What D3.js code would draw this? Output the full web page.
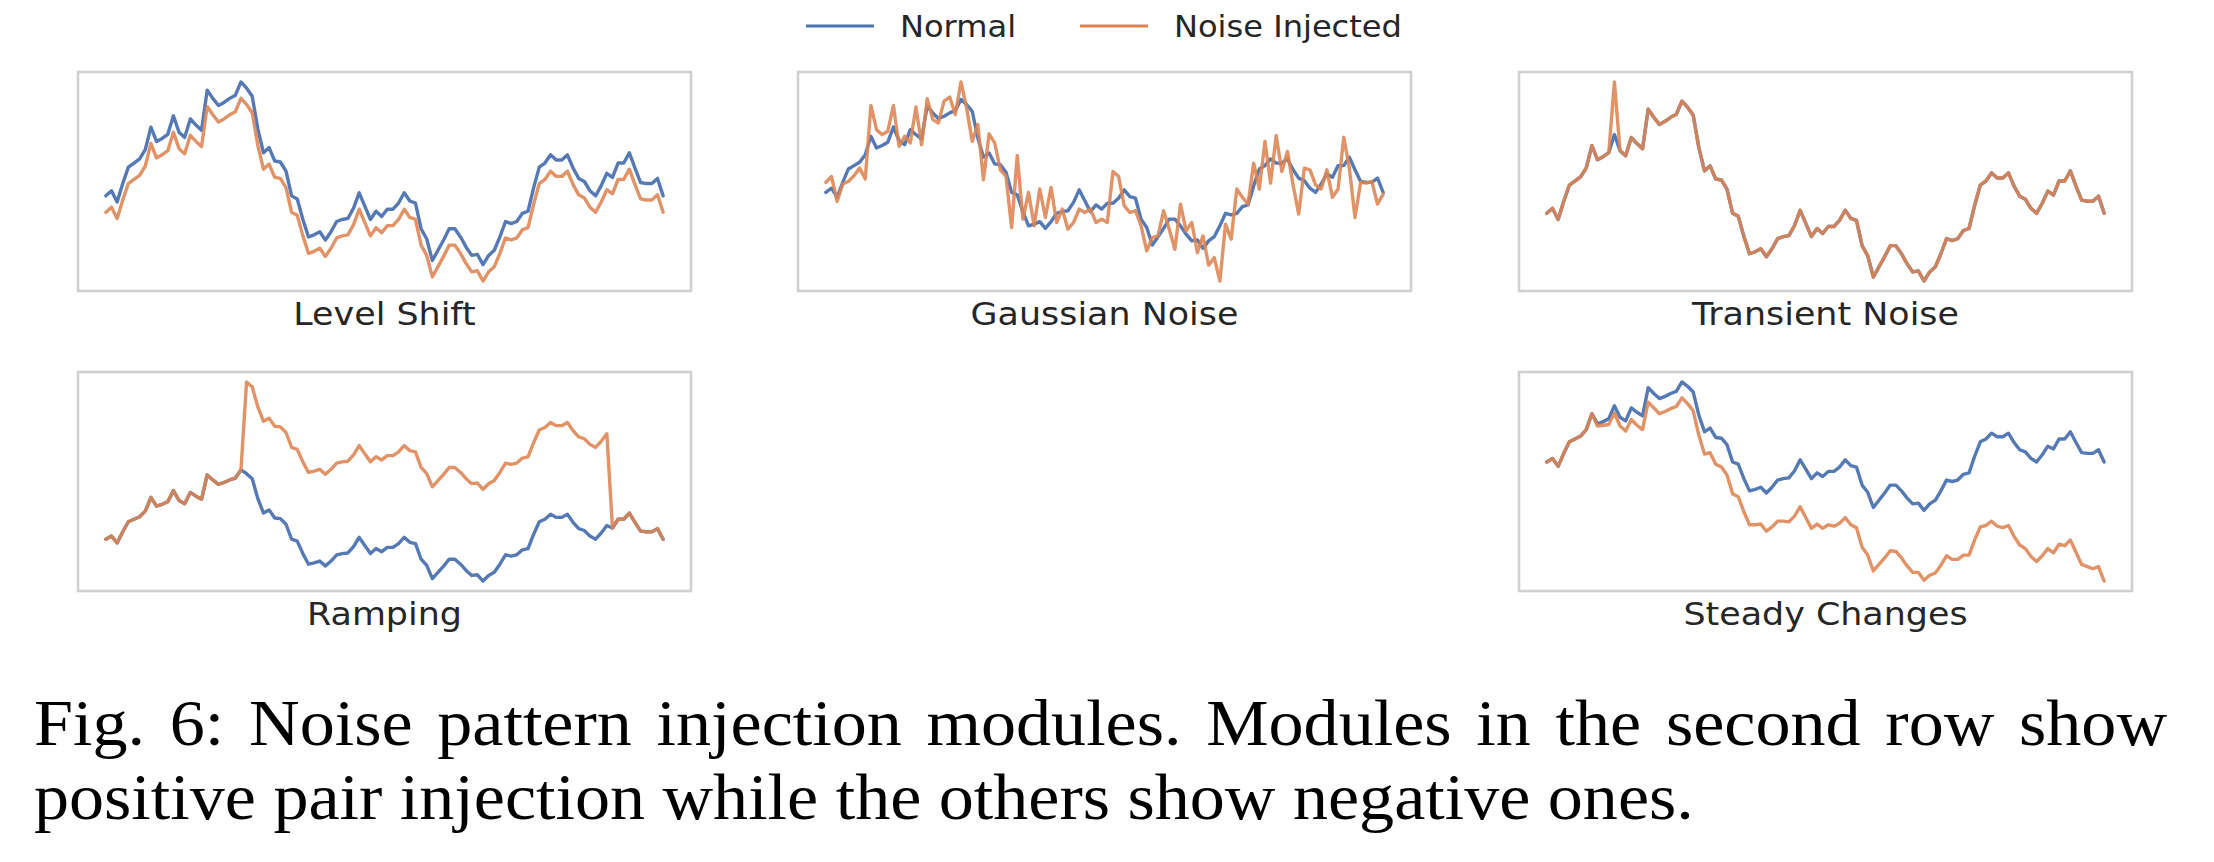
<!DOCTYPE html>
<html><head><meta charset="utf-8">
<script src="https://cdn.jsdelivr.net/npm/d3@7"></script>
<style>html,body{margin:0;padding:0;background:#fff;} svg{display:block}</style>
</head><body>
<svg id="chart" width="2214" height="862"></svg>
<script>
// ---- data (arbitrary units) ----
const normalSeries = [88,93,82,100,116,120,124,133,155,141,
 144,148,166,150,145,163,157,152,191,183,
 176,179,183,186,199,193,185,153,130,135,
 122,121,112,88,85,65,48,50,53,45,
 53,63,65,66,76,91,78,65,73,68,
 75,75,81,91,83,81,56,46,25,35,
 45,56,56,48,38,30,31,21,30,35,
 48,63,61,63,71,73,96,116,120,128,
 123,123,128,115,105,102,93,88,98,110,
 106,120,120,130,115,101,100,100,105,88];

const levelShiftSeries = [72,77,66,84,100,104,108,117,139,125,
 128,132,150,134,129,147,141,136,175,167,
 160,163,167,170,183,177,169,137,114,119,
 106,105,96,72,69,49,32,34,37,29,
 37,47,49,50,60,75,62,49,57,52,
 59,59,65,75,67,65,40,30,9,19,
 29,40,40,32,22,14,15,5,14,19,
 32,47,45,47,55,57,80,100,104,112,
 107,107,112,99,89,86,77,72,82,94,
 90,104,104,114,99,85,84,84,89,72];

const gaussianNoiseSeries = [100,107,77,98,101,108,117,104,192,163,
 157,161,192,143,155,147,190,145,200,175,
 171,197,202,181,220,189,149,169,103,158,
 147,115,107,46,132,56,88,48,92,58,
 94,52,68,44,52,68,64,68,52,56,
 52,113,107,72,64,66,48,18,34,36,
 66,44,20,74,42,52,16,36,1,10,
 -18,50,32,92,82,74,123,92,149,99,
 156,113,137,97,62,117,115,97,92,115,
 82,92,154,117,58,100,99,101,74,86];

const transientNoiseSeries = [88,93,82,100,116,120,124,133,155,141,
 144,148,218,150,145,163,157,152,191,183,
 176,179,183,186,199,193,185,153,130,135,
 122,121,112,88,85,65,48,50,53,45,
 53,63,65,66,76,91,78,65,73,68,
 75,75,81,91,83,81,56,46,25,35,
 45,56,56,48,38,30,31,21,30,35,
 48,63,61,63,71,73,96,116,120,128,
 123,123,128,115,105,102,93,88,98,110,
 106,120,120,130,115,101,100,100,105,88];

const rampingSeries = [88,93,82,100,116,120,124,133,155,141,
 144,148,166,150,145,163,157,152,191,183,
 176,179,183,186,199,340,332,300,277,282,
 269,268,259,235,232,212,195,197,200,192,
 200,210,212,213,223,238,225,212,220,215,
 222,222,228,238,230,228,203,193,172,182,
 192,203,203,195,185,177,178,168,177,182,
 195,210,208,210,218,220,243,263,267,275,
 270,270,275,262,252,249,240,235,245,257,
 106,120,120,130,115,101,100,100,105,88];

const steadyChangesSeries = [88,93,82,100,116,120,124,133,155,138,
 139,140,156,138,131,147,139,133,171,163,
 155,158,162,165,177,169,159,125,99,101,
 85,81,70,44,40,19,1,1,2,-8,
 -2,6,6,5,13,26,11,-4,2,-4,
 1,-1,3,11,1,-3,-30,-41,-63,-54,
 -45,-35,-36,-45,-56,-65,-65,-76,-69,-66,
 -55,-42,-47,-47,-41,-41,-20,-2,0,6,
 -1,-3,0,-15,-27,-32,-43,-50,-42,-32,
 -38,-26,-28,-20,-37,-54,-57,-60,-57,-77];

const panelTitles = ["Level Shift", "Gaussian Noise", "Transient Noise", "Ramping", "Steady Changes"];
const legendLabels = ["Normal", "Noise Injected"];
const captionLines = [
  "Fig. 6: Noise pattern injection modules. Modules in the second row show",
  "positive pair injection while the others show negative ones."
];

// ---- styles / layout ----
const COLORS = { normal: "#4c72b0", injected: "#dd8452" };
const TEXT = "#262626";
const SANS = "'DejaVu Sans', Verdana, sans-serif";
const SERIF = "'Liberation Serif', 'Times New Roman', Times, serif";
const colLeft = [78, 798, 1519];
const rowTop = [72, 372];
const panelW = 613, panelH = 219;
const panels = [
  { title: panelTitles[0], injected: levelShiftSeries, col: 0, row: 0 },
  { title: panelTitles[1], injected: gaussianNoiseSeries, col: 1, row: 0 },
  { title: panelTitles[2], injected: transientNoiseSeries, col: 2, row: 0 },
  { title: panelTitles[3], injected: rampingSeries, col: 0, row: 1 },
  { title: panelTitles[4], injected: steadyChangesSeries, col: 2, row: 1 }
];

const svg = d3.select("#chart");
const n = normalSeries.length;

panels.forEach(p => {
  const x0 = colLeft[p.col], y0 = rowTop[p.row];
  const g = svg.append("g");
  const pad = 0.05 * (n - 1);
  const x = d3.scaleLinear().domain([-pad, n - 1 + pad]).range([x0, x0 + panelW]);
  const ext = d3.extent(normalSeries.concat(p.injected));
  const r = ext[1] - ext[0];
  const y = d3.scaleLinear().domain([ext[0] - 0.05 * r, ext[1] + 0.05 * r]).range([y0 + panelH, y0]);
  const line = d3.line().x((d, i) => x(i)).y(d => y(d));

  g.append("rect").attr("x", x0).attr("y", y0).attr("width", panelW).attr("height", panelH)
    .attr("fill", "#fff").attr("stroke", "#d0d0d0").attr("stroke-width", 2.6);

  g.append("path").datum(normalSeries).attr("d", line)
    .attr("fill", "none").attr("stroke", COLORS.normal).attr("stroke-width", 3.4)
    .attr("stroke-linejoin", "round").attr("stroke-linecap", "round").attr("opacity", 0.95);
  g.append("path").datum(p.injected).attr("d", line)
    .attr("fill", "none").attr("stroke", COLORS.injected).attr("stroke-width", 3.4)
    .attr("stroke-linejoin", "round").attr("stroke-linecap", "round").attr("opacity", 0.88);

  g.append("g").attr("transform", `translate(${x0 + panelW / 2},${y0 + panelH + 34}) scale(1.09,1)`)
    .append("text").attr("text-anchor", "middle").attr("font-family", SANS)
    .attr("font-size", 32).attr("fill", TEXT).text(p.title);
});

// legend
const legendItems = [
  { label: legendLabels[0], color: COLORS.normal, x: 806 },
  { label: legendLabels[1], color: COLORS.injected, x: 1080 }
];
legendItems.forEach(it => {
  svg.append("line").attr("x1", it.x).attr("x2", it.x + 68).attr("y1", 26).attr("y2", 26)
    .attr("stroke", it.color).attr("stroke-width", 3.2);
  svg.append("g").attr("transform", `translate(${it.x + 94},37) scale(1.07,1)`)
    .append("text").attr("font-family", SANS).attr("font-size", 30).attr("fill", TEXT).text(it.label);
});

// caption (glyphs slightly widened like the reference, first line justified)
const capLeft = 34, capRight = 2167, stretch = 1.078;
const cap = svg.append("g").attr("transform", `translate(${capLeft},0) scale(${stretch},1)`)
  .attr("font-family", SERIF).attr("font-size", 65).attr("fill", "#000");
const words = captionLines[0].split(" ");
const tmp = words.map(w => cap.append("text").attr("y", 745).text(w));
const widths = tmp.map(t => t.node().getComputedTextLength());
const total = d3.sum(widths);
const span = (capRight - capLeft) / stretch;
const gap = (span - total) / (words.length - 1);
let cx = 0;
tmp.forEach((t, i) => { t.attr("x", cx); cx += widths[i] + gap; });
cap.append("text").attr("x", 0).attr("y", 819).text(captionLines[1]);
</script>
</body></html>
